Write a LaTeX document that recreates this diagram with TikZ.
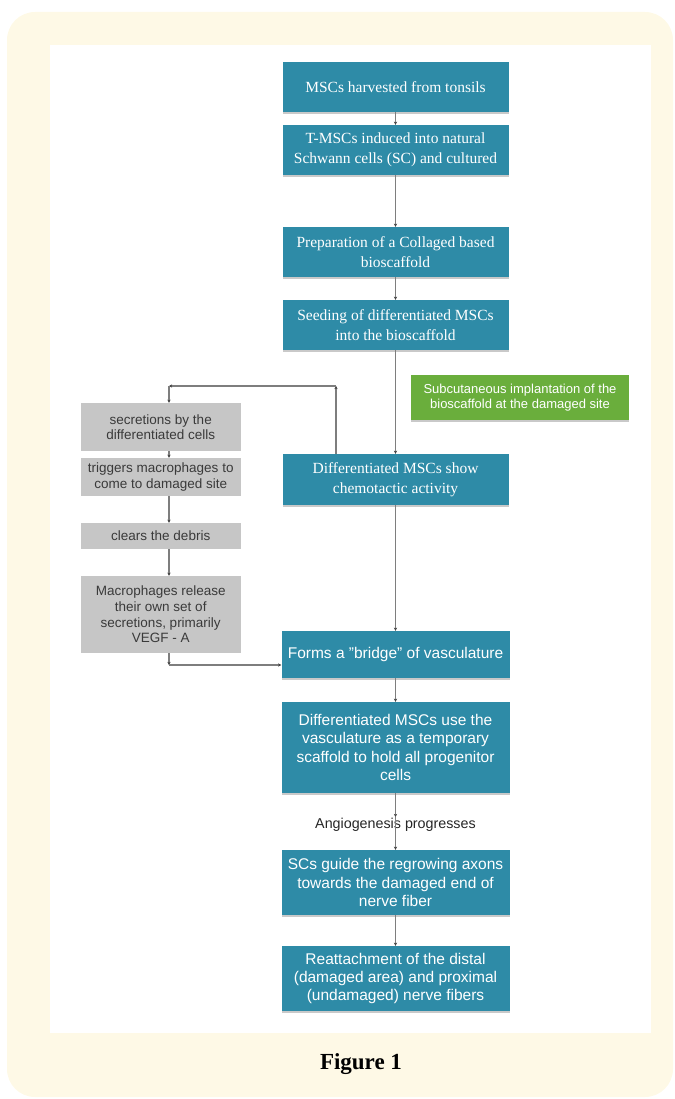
\documentclass[tikz,border=0pt]{standalone}
\usepackage{fontspec}
\setmainfont{Liberation Serif}
\setsansfont{Liberation Sans}
\usetikzlibrary{arrows.meta,shadows}
\definecolor{tealbox}{HTML}{2E8BA7}
\definecolor{greenbox}{HTML}{6AAE3C}
\definecolor{grayfill}{HTML}{C6C6C6}
\definecolor{graytext}{HTML}{3A3A3A}
\definecolor{linegray}{HTML}{7E7E7E}
\definecolor{bgyellow}{HTML}{FEF9E6}
\begin{document}
\begin{tikzpicture}[x=1pt,y=-1pt,
  shad/.style={drop shadow={shadow xshift=0pt,shadow yshift=-1.6pt,opacity=0.35,fill=black!60}},
  box/.style={shad,fill=tealbox,text=white,align=center,inner sep=2pt,minimum width=226pt},
  serifbox/.style={box,font=\fontsize{15.5}{19.5}\selectfont},
  sansbox/.style={box,font=\sffamily\fontsize{15.5}{18.3}\selectfont},
  graybox/.style={fill=grayfill,text=graytext,align=center,inner sep=2pt,minimum width=159.5pt,font=\sffamily\fontsize{13.5}{15.6}\selectfont},
  greenstyle/.style={shad,fill=greenbox,text=white,align=center,inner sep=2pt,minimum width=218pt,minimum height=45pt,font=\sffamily\fontsize{13}{15.7}\selectfont},
  conn/.style={draw=linegray,line width=1.1pt,-{Stealth[length=3.2pt,width=3.2pt,color=black!75]}}
]
\useasboundingbox (0,0) rectangle (674,1099);
% backgrounds
\fill[bgyellow,rounded corners=28pt] (7,12) rectangle (673,1097);
\fill[white] (50,45) rectangle (651,1033);

% main column
\node[serifbox,minimum height=50pt] (b1) at (395.5,87) {MSCs harvested from tonsils};
\node[serifbox,minimum height=50pt] (b2) at (395.5,150) {T-MSCs induced into natural\\Schwann cells (SC) and cultured};
\node[serifbox,minimum height=50pt] (b3) at (395.5,252) {Preparation of a Collaged based\\bioscaffold};
\node[serifbox,minimum height=50pt] (b4) at (395.5,325) {Seeding of differentiated MSCs\\into the bioscaffold};
\node[serifbox,minimum height=51pt] (b5) at (395.5,479.5) {Differentiated MSCs show\\chemotactic activity};
\node[sansbox,minimum height=47pt,minimum width=228pt] (b6) at (395.5,654.5) {Forms a "bridge" of vasculature};
\node[sansbox,minimum height=91pt,minimum width=228pt] (b7) at (395.5,747.5) {Differentiated MSCs use the\\vasculature as a temporary\\scaffold to hold all progenitor\\cells};
\node[sansbox,minimum height=65pt,minimum width=228pt] (b8) at (395.5,882.5) {SCs guide the regrowing axons\\towards the damaged end of\\nerve fiber};
\node[sansbox,minimum height=65pt,minimum width=228pt] (b9) at (395.5,978.5) {Reattachment of the distal\\(damaged area) and proximal\\(undamaged) nerve fibers};

% green side note
\node[greenstyle] (gr) at (520,397.5) {Subcutaneous implantation of the\\bioscaffold at the damaged site};

% gray column
\node[graybox,minimum height=48pt] (g1) at (160.75,427) {secretions by the\\differentiated cells};
\node[graybox,minimum height=38pt] (g2) at (160.75,477) {triggers macrophages to\\come to damaged site};
\node[graybox,minimum height=26pt] (g3) at (160.75,536) {clears the debris};
\node[graybox,minimum height=77pt] (g4) at (160.75,614.5) {Macrophages release\\their own set of\\secretions, primarily\\VEGF - A};

% label
\node[font=\sffamily\fontsize{14.3}{16}\selectfont,text=black!85,inner sep=0pt] (lbl) at (395.5,825) {Angiogenesis progresses};
\coordinate (lt) at (395.5,817);

% loop coordinates
\coordinate (cR) at (336,386);
\coordinate (cL) at (169,386);
\coordinate (cB) at (169,665);

% main connectors
\draw[conn] (b1) -- (b2);
\draw[conn] (b2) -- (b3);
\draw[conn] (b3) -- (b4);
\draw[conn] (b4) -- (b5);
\draw[conn] (b5) -- (b6);
\draw[conn] (b6) -- (b7);
\draw[conn] (b7) -- (lt);
\draw[conn] (lt) -- (b8);
\draw[conn] (b8) -- (b9);

% feedback loop
\draw[conn] (b5.north -| cR) -- (cR);
\draw[conn] (cR) -- (cL);
\draw[conn] (cL) -- (g1.north -| cL);
\draw[conn] (g1.south -| cL) -- (g2.north -| cL);
\draw[conn] (g2.south -| cL) -- (g3.north -| cL);
\draw[conn] (g3.south -| cL) -- (g4.north -| cL);
\draw[conn] (g4.south -| cB) -- (cB);
\draw[conn] (cB) -- (cB -| b6.west);

% caption
\node[font=\bfseries\fontsize{23}{26}\selectfont,inner sep=0pt] (cap) at (361,1064) {Figure 1};
\end{tikzpicture}
\end{document}
